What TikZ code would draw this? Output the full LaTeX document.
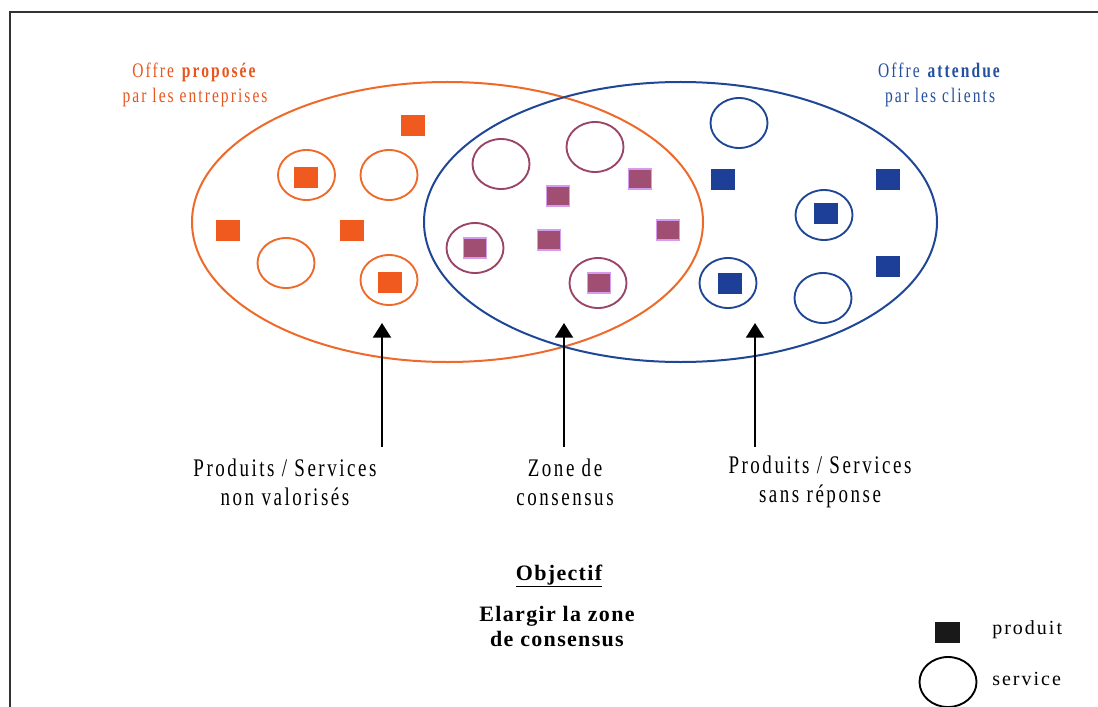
\documentclass[tikz,border=0pt]{standalone}
\usepackage{fontspec}
\setmainfont{Liberation Serif}
\newfontfamily\lbl[LetterSpace=10,FakeStretch=0.75]{Liberation Serif}
\newfontfamily\lblb[LetterSpace=10]{Liberation Serif}
\newfontfamily\lblo[LetterSpace=6]{Liberation Serif}
\usetikzlibrary{shapes.geometric,arrows.meta}
\definecolor{orng}{HTML}{EE6A2A}
\definecolor{orngtxt}{HTML}{E8561E}
\definecolor{orngfill}{HTML}{F05A1E}
\definecolor{blu}{HTML}{1F4795}
\definecolor{blutxt}{HTML}{2450A0}
\definecolor{blufill}{HTML}{1E3F98}
\definecolor{purp}{HTML}{9A4468}
\definecolor{purpfill}{HTML}{A04E72}
\definecolor{purpedge}{HTML}{D49BEE}
\definecolor{framec}{HTML}{333333}
\begin{document}
\begin{tikzpicture}[x=0.75pt,y=-0.75pt,
  bigell/.style 2 args={ellipse,draw=#2,line width=1.5pt,minimum width=#1,minimum height=210pt,inner sep=0pt},
  svc/.style={ellipse,draw=#1,line width=1.4pt,minimum width=42.75pt,minimum height=37.5pt,inner sep=0pt},
  prod/.style={rectangle,fill=#1,minimum width=18pt,minimum height=15.75pt,inner sep=0pt},
  cprod/.style={rectangle,fill=purpfill,draw=purpedge,line width=1.2pt,minimum width=17pt,minimum height=14.75pt,inner sep=0pt},
  pointer/.style={line width=1.5pt,-{Triangle[width=13.5pt,length=11pt]}},
  titletext/.style={align=center,font=\lbl\fontsize{15.5}{18.75}\selectfont,inner sep=0pt},
  labeltext/.style={align=center,font=\lbl\fontsize{19}{21.75}\selectfont,inner sep=0pt},
  objtext/.style={align=center,font=\lblo\bfseries\fontsize{16.5}{18.75}\selectfont,inner sep=0pt},
  legtext/.style={anchor=west,font=\lblb\fontsize{15}{18}\selectfont,inner sep=0pt}
]
\useasboundingbox (0,0) rectangle (1098,706);
\fill[white] (0,0) rectangle (1098,706);
% frame
\draw[framec,line width=2pt] (10,720) -- (10,12) -- (1110,12);

% big ellipses
\node[bigell={383.25pt}{orng}] (offre) at (447.5,222) {};
\node[bigell={384.75pt}{blu}] (attente) at (680.5,222) {};

% titles
\node[titletext,text=orngtxt] (tprop) at (195,85) {Offre \textbf{proposée}\\par les entreprises};
\node[titletext,text=blutxt] (tatt) at (940,85) {Offre \textbf{attendue}\\par les clients};

% orange region
\node[prod=orngfill] (o1) at (413,126) {};
\node[svc=orng] (os1) at (306.5,175) {};
\node[prod=orngfill] (o2) at (306,177) {};
\node[svc=orng] (os2) at (389,175) {};
\node[prod=orngfill] (o3) at (228,230) {};
\node[prod=orngfill] (o4) at (352,230) {};
\node[svc=orng] (os3) at (286,263) {};
\node[svc=orng] (os4) at (389,280) {};
\node[prod=orngfill] (o5) at (390,282) {};

% consensus region
\node[svc=purp] (cs1) at (501,164) {};
\node[svc=purp] (cs2) at (595,147) {};
\node[cprod] (c1) at (558,196) {};
\node[cprod] (c2) at (640,179) {};
\node[svc=purp] (cs3) at (475,248) {};
\node[cprod] (c3) at (475,248) {};
\node[cprod] (c4) at (549,240) {};
\node[cprod] (c5) at (668,230) {};
\node[svc=purp] (cs4) at (598,283) {};
\node[cprod] (c6) at (599,283) {};

% blue region
\node[svc=blu] (bs1) at (739,123) {};
\node[prod=blufill] (b1) at (723,179) {};
\node[prod=blufill] (b2) at (888,179) {};
\node[svc=blu] (bs2) at (824,215) {};
\node[prod=blufill] (b3) at (826,213) {};
\node[prod=blufill] (b4) at (888,266) {};
\node[svc=blu] (bs3) at (728,283) {};
\node[prod=blufill] (b5) at (730,283) {};
\node[svc=blu] (bs4) at (823,298) {};

% arrows
\coordinate (a1s) at (382,447);
\coordinate (a1e) at (382,323);
\coordinate (a2s) at (564,447);
\coordinate (a2e) at (564,323);
\coordinate (a3s) at (755,447);
\coordinate (a3e) at (755,323);
\draw[pointer] (a1s) -- (a1e);
\draw[pointer] (a2s) -- (a2e);
\draw[pointer] (a3s) -- (a3e);

% labels
\node[labeltext] (l1) at (285,482) {Produits / Services\\non valorisés};
\node[labeltext] (l2) at (565,482) {Zone de\\consensus};
\node[labeltext] (l3) at (820,482) {Produits / Services\\sans réponse};

% objective
\node[objtext] (obj) at (559,576) {\underline{Objectif}};
\node[objtext] (goal) at (557,626) {Elargir la zone\\de consensus};

% legend
\node[prod=black!90,minimum width=18.75pt] (lp) at (947,632) {};
\node[svc=black] (ls) at (948,682) {};
\node[legtext] (lpt) at (992,630) {produit};
\node[legtext] (lst) at (992,679) {service};
\end{tikzpicture}
\end{document}
